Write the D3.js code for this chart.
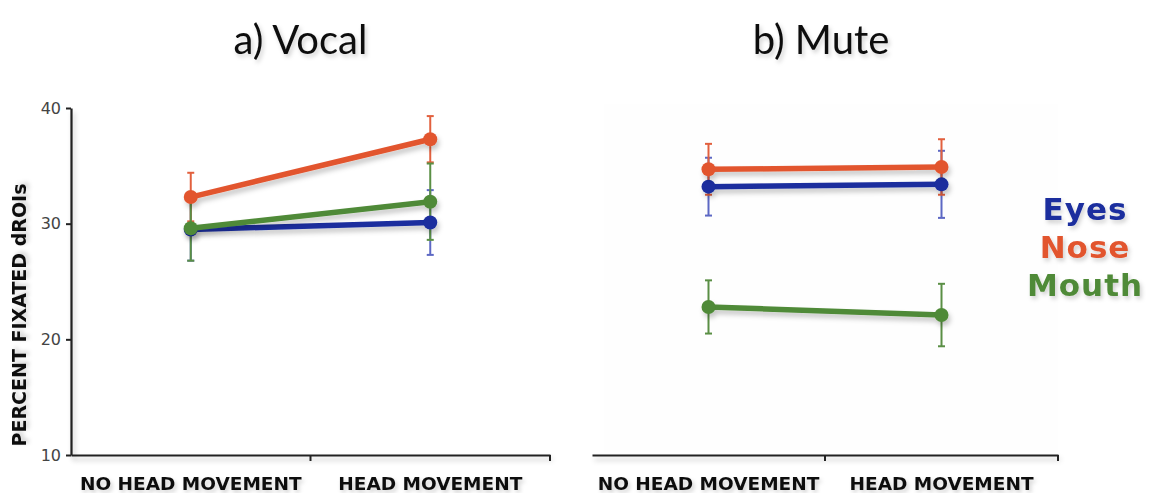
<!DOCTYPE html>
<html><head><meta charset="utf-8">
<script src="https://cdn.jsdelivr.net/npm/d3@7"></script>
<style>
html,body{margin:0;padding:0;background:#fff;}
svg{display:block;}
</style></head>
<body>
<svg id="chart" width="1151" height="493"></svg>
<script>
// ---- data ----
const categories = ["NO HEAD MOVEMENT", "HEAD MOVEMENT"];
const seriesNames = ["Eyes", "Nose", "Mouth"];
const yTicks = [10, 20, 30, 40];
const panelTitles = ["a) Vocal", "b) Mute"];

const vocalEyes = [29.5, 30.1];   const vocalEyesErr = [2.7, 2.8];
const vocalNose = [32.3, 37.3];   const vocalNoseErr = [2.1, 2.0];
const vocalMouth = [29.6, 31.9];  const vocalMouthErr = [2.8, 3.3];

const muteEyes = [33.2, 33.4];    const muteEyesErr = [2.5, 2.9];
const muteNose = [34.7, 34.9];    const muteNoseErr = [2.2, 2.4];
const muteMouth = [22.8, 22.1];   const muteMouthErr = [2.3, 2.7];

// ---- styling ----
const colors = {Eyes: "#1a2e9e", Nose: "#e2552f", Mouth: "#4f8a37"};
const errColors = {Eyes: "#5d68c4", Nose: "#e2603e", Mouth: "#5a8f45"};

const svg = d3.select("#chart");
const defs = svg.append("defs");
function shadow(id, dy, sd, op) {
  const f = defs.append("filter").attr("id", id).attr("filterUnits","userSpaceOnUse")
    .attr("x",-2000).attr("y",-2000).attr("width",5000).attr("height",5000);
  f.append("feDropShadow").attr("dx",2).attr("dy",dy).attr("stdDeviation",sd)
    .attr("flood-color","#000").attr("flood-opacity",op);
}
shadow("sh", 4, 2.5, 0.22);
shadow("tsh", 3, 2, 0.18);

const y = d3.scaleLinear().domain([10, 40]).range([455, 108]);

const panels = [
  {title: panelTitles[0], x0: 71, x1: 550, showY: true, titleShift: -10,
   data: {Eyes: [vocalEyes, vocalEyesErr], Nose: [vocalNose, vocalNoseErr], Mouth: [vocalMouth, vocalMouthErr]}},
  {title: panelTitles[1], x0: 592, x1: 1058, showY: false, titleShift: -4,
   data: {Eyes: [muteEyes, muteEyesErr], Nose: [muteNose, muteNoseErr], Mouth: [muteMouth, muteMouthErr]}}
];

panels.forEach((p, pi) => {
  const x = d3.scaleBand().domain(categories).range([p.x0, p.x1]);
  const g = svg.append("g");
  const cx = c => x(c) + x.bandwidth()/2;

  if (!p.showY) {
    g.append("rect").attr("x", p.x0 + 12).attr("y", 104).attr("width", p.x1 - p.x0 - 12).attr("height", 348)
      .attr("fill", "#fefefe");
  }

  // title
  g.append("text").attr("x", (p.x0 + p.x1)/2 + p.titleShift).attr("y", 54)
    .attr("text-anchor","middle").attr("font-family","Lato, 'Open Sans', sans-serif")
    .attr("font-size", 40).attr("fill","#111").attr("filter","url(#tsh)").text(p.title);

  // x axis
  const xAxis = d3.axisBottom(x).tickSize(0).tickPadding(22);
  const xa = g.append("g").attr("transform", `translate(0,${y(10)})`).call(xAxis);
  xa.select(".domain").attr("stroke","#222").attr("stroke-width",2.2).attr("filter","url(#sh)");
  xa.selectAll("text").attr("font-family","'DejaVu Sans', Verdana, sans-serif").attr("font-weight","bold")
    .attr("font-size", 18.5).attr("fill","#111").attr("filter","url(#tsh)");
  // boundary ticks
  const bnds = [x(categories[1]), p.x1];
  g.selectAll(".btick").data(bnds).join("line").attr("class","btick")
    .attr("x1", d => d).attr("x2", d => d).attr("y1", y(10)).attr("y2", y(10) + 6)
    .attr("stroke","#222").attr("stroke-width",2);

  if (p.showY) {
    const yAxis = d3.axisLeft(y).tickValues(yTicks).tickSize(5).tickPadding(5).tickSizeOuter(0);
    const ya = g.append("g").attr("transform", `translate(${p.x0},0)`).call(yAxis);
    ya.select(".domain").attr("stroke","#222").attr("stroke-width",2.2).attr("filter","url(#sh)");
    ya.selectAll(".tick line").attr("stroke","#222").attr("stroke-width",2);
    ya.selectAll("text").attr("font-family","'DejaVu Sans', Verdana, sans-serif")
      .attr("font-size", 16).attr("fill","#444");
    g.append("text").attr("transform", `translate(26,315) rotate(-90)`)
      .attr("text-anchor","middle").attr("font-family","'DejaVu Sans', Verdana, sans-serif")
      .attr("font-weight","bold").attr("font-size",19).attr("fill","#111")
      .attr("filter","url(#tsh)")
      .text("PERCENT FIXATED dROIs");
  }

  // error bars
  const eg = g.append("g");
  seriesNames.forEach(s => {
    const [vals, errs] = p.data[s];
    categories.forEach((c, i) => {
      const xx = cx(c);
      const top = y(vals[i] + errs[i]), bot = y(vals[i] - errs[i]);
      eg.append("line").attr("x1", xx).attr("x2", xx).attr("y1", top).attr("y2", bot)
        .attr("stroke", errColors[s]).attr("stroke-width", 2);
      [top, bot].forEach(yy => eg.append("line").attr("x1", xx - 3.5).attr("x2", xx + 3.5)
        .attr("y1", yy).attr("y2", yy).attr("stroke", errColors[s]).attr("stroke-width", 2));
    });
  });

  // lines + dots
  const line = d3.line().x((d, i) => cx(categories[i])).y(d => y(d));
  ["Eyes", "Mouth", "Nose"].forEach(s => {
    const vals = p.data[s][0];
    const sg = g.append("g").attr("filter","url(#sh)");
    sg.append("path").attr("d", line(vals)).attr("fill","none")
      .attr("stroke", colors[s]).attr("stroke-width", 5.5).attr("stroke-linecap","round");
    sg.selectAll("circle").data(vals).join("circle")
      .attr("cx", (d, i) => cx(categories[i])).attr("cy", d => y(d)).attr("r", 7)
      .attr("fill", colors[s]);
  });
});

// legend
const legend = svg.append("g");
seriesNames.forEach((s, i) => {
  legend.append("text").attr("x", 1085).attr("y", 220 + i*38)
    .attr("text-anchor","middle").attr("font-family","'DejaVu Sans', Verdana, sans-serif")
    .attr("font-weight","bold").attr("font-size", 31).attr("letter-spacing", 1).attr("fill", colors[s])
    .attr("filter","url(#tsh)").text(s);
});
</script>
</body></html>
